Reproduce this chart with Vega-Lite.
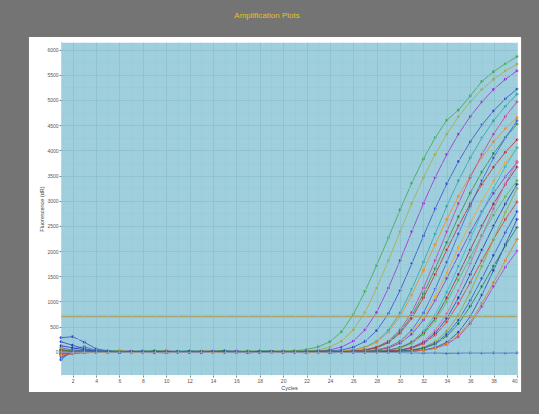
{
"$schema": "https://vega.github.io/schema/vega-lite/v6.json",
"width": 456, "height": 333,
"autosize": {"type": "none"},
"padding": {"left": 61, "top": 42, "right": 22, "bottom": 39},
"background": "#747474",
"title": {"text": "Amplification Plots", "color": "#e3c21c", "fontSize": 8, "fontWeight": "normal", "font": "Liberation Sans", "offset": 17, "dx": -22},
"config": {
  "view": {"fill": "#9fcfdd", "stroke": "#e6f3f7"},
  "axis": {"labelFont": "Liberation Sans", "titleFont": "Liberation Sans", "labelColor": "#555555", "titleColor": "#444444", "labelFontSize": 5, "titleFontSize": 5.5, "titleFontWeight": "normal", "domain": false, "tickColor": "#888888", "tickSize": 2, "grid": true, "gridOpacity": 1, "gridWidth": 0.6, "labelOverlap": false, "tickCount": 100}
},
"layer": [
  {"data": {"values": [{}]}, "mark": {"type": "rect", "color": "#ffffff"},
   "encoding": {"x": {"datum": -1.74, "type": "quantitative"}, "x2": {"datum": 1}, "y": {"datum": 6249, "type": "quantitative"}, "y2": {"datum": -797}}},
  {"data": {"values": [{}]}, "mark": {"type": "rect", "color": "#ffffff"},
   "encoding": {"x": {"datum": 40, "type": "quantitative"}, "x2": {"datum": 40.35}, "y": {"datum": 6249, "type": "quantitative"}, "y2": {"datum": -797}}},
  {"data": {"values": [{}]}, "mark": {"type": "rect", "color": "#ffffff"},
   "encoding": {"x": {"datum": 1, "type": "quantitative"}, "x2": {"datum": 40}, "y": {"datum": 6249, "type": "quantitative"}, "y2": {"datum": 6150}}},
  {"data": {"values": [{}]}, "mark": {"type": "rect", "color": "#ffffff"},
   "encoding": {"x": {"datum": 1, "type": "quantitative"}, "x2": {"datum": 40}, "y": {"datum": -460, "type": "quantitative"}, "y2": {"datum": -797}}},
  {"data": {"values": [
{"s":"a","c":1,"v":40},{"s":"a","c":2,"v":20},{"s":"a","c":3,"v":-10},{"s":"a","c":4,"v":10},{"s":"a","c":5,"v":0},{"s":"a","c":6,"v":15},{"s":"a","c":7,"v":-5},{"s":"a","c":8,"v":5},{"s":"a","c":9,"v":10},{"s":"a","c":10,"v":-10},{"s":"a","c":11,"v":0},{"s":"a","c":12,"v":5},{"s":"a","c":13,"v":15},{"s":"a","c":14,"v":-5},{"s":"a","c":15,"v":10},{"s":"a","c":16,"v":0},{"s":"a","c":17,"v":-10},{"s":"a","c":18,"v":5},{"s":"a","c":19,"v":10},{"s":"a","c":20,"v":15},{"s":"a","c":21,"v":20},{"s":"a","c":22,"v":45},{"s":"a","c":23,"v":100},{"s":"a","c":24,"v":200},{"s":"a","c":25,"v":400},{"s":"a","c":26,"v":740},{"s":"a","c":27,"v":1200},{"s":"a","c":28,"v":1720},{"s":"a","c":29,"v":2260},{"s":"a","c":30,"v":2820},{"s":"a","c":31,"v":3350},{"s":"a","c":32,"v":3830},{"s":"a","c":33,"v":4250},{"s":"a","c":34,"v":4600},{"s":"a","c":35,"v":4800},{"s":"a","c":36,"v":5080},{"s":"a","c":37,"v":5370},{"s":"a","c":38,"v":5560},{"s":"a","c":39,"v":5720},{"s":"a","c":40,"v":5860},
{"s":"b","c":1,"v":-60},{"s":"b","c":2,"v":10},{"s":"b","c":3,"v":20},{"s":"b","c":4,"v":-5},{"s":"b","c":5,"v":10},{"s":"b","c":6,"v":0},{"s":"b","c":7,"v":5},{"s":"b","c":8,"v":-10},{"s":"b","c":9,"v":15},{"s":"b","c":10,"v":5},{"s":"b","c":11,"v":-5},{"s":"b","c":12,"v":10},{"s":"b","c":13,"v":0},{"s":"b","c":14,"v":20},{"s":"b","c":15,"v":-10},{"s":"b","c":16,"v":5},{"s":"b","c":17,"v":10},{"s":"b","c":18,"v":-5},{"s":"b","c":19,"v":0},{"s":"b","c":20,"v":10},{"s":"b","c":21,"v":5},{"s":"b","c":22,"v":17},{"s":"b","c":23,"v":39},{"s":"b","c":24,"v":95},{"s":"b","c":25,"v":213},{"s":"b","c":26,"v":437},{"s":"b","c":27,"v":784},{"s":"b","c":28,"v":1266},{"s":"b","c":29,"v":1814},{"s":"b","c":30,"v":2386},{"s":"b","c":31,"v":2946},{"s":"b","c":32,"v":3461},{"s":"b","c":33,"v":3920},{"s":"b","c":34,"v":4323},{"s":"b","c":35,"v":4670},{"s":"b","c":36,"v":4962},{"s":"b","c":37,"v":5208},{"s":"b","c":38,"v":5410},{"s":"b","c":39,"v":5578},{"s":"b","c":40,"v":5712},
{"s":"c","c":1,"v":80},{"s":"c","c":2,"v":30},{"s":"c","c":3,"v":0},{"s":"c","c":4,"v":15},{"s":"c","c":5,"v":-10},{"s":"c","c":6,"v":5},{"s":"c","c":7,"v":10},{"s":"c","c":8,"v":0},{"s":"c","c":9,"v":-5},{"s":"c","c":10,"v":20},{"s":"c","c":11,"v":5},{"s":"c","c":12,"v":-10},{"s":"c","c":13,"v":10},{"s":"c","c":14,"v":0},{"s":"c","c":15,"v":5},{"s":"c","c":16,"v":15},{"s":"c","c":17,"v":-5},{"s":"c","c":18,"v":10},{"s":"c","c":19,"v":-10},{"s":"c","c":20,"v":5},{"s":"c","c":21,"v":0},{"s":"c","c":22,"v":10},{"s":"c","c":23,"v":17},{"s":"c","c":24,"v":39},{"s":"c","c":25,"v":95},{"s":"c","c":26,"v":213},{"s":"c","c":27,"v":437},{"s":"c","c":28,"v":784},{"s":"c","c":29,"v":1266},{"s":"c","c":30,"v":1814},{"s":"c","c":31,"v":2386},{"s":"c","c":32,"v":2946},{"s":"c","c":33,"v":3461},{"s":"c","c":34,"v":3920},{"s":"c","c":35,"v":4323},{"s":"c","c":36,"v":4670},{"s":"c","c":37,"v":4962},{"s":"c","c":38,"v":5208},{"s":"c","c":39,"v":5410},{"s":"c","c":40,"v":5578},
{"s":"d","c":1,"v":280},{"s":"d","c":2,"v":300},{"s":"d","c":3,"v":190},{"s":"d","c":4,"v":60},{"s":"d","c":5,"v":20},{"s":"d","c":6,"v":10},{"s":"d","c":7,"v":-10},{"s":"d","c":8,"v":5},{"s":"d","c":9,"v":15},{"s":"d","c":10,"v":0},{"s":"d","c":11,"v":-5},{"s":"d","c":12,"v":10},{"s":"d","c":13,"v":5},{"s":"d","c":14,"v":-10},{"s":"d","c":15,"v":0},{"s":"d","c":16,"v":15},{"s":"d","c":17,"v":5},{"s":"d","c":18,"v":-5},{"s":"d","c":19,"v":10},{"s":"d","c":20,"v":0},{"s":"d","c":21,"v":-10},{"s":"d","c":22,"v":5},{"s":"d","c":23,"v":10},{"s":"d","c":24,"v":16},{"s":"d","c":25,"v":38},{"s":"d","c":26,"v":92},{"s":"d","c":27,"v":205},{"s":"d","c":28,"v":421},{"s":"d","c":29,"v":756},{"s":"d","c":30,"v":1220},{"s":"d","c":31,"v":1750},{"s":"d","c":32,"v":2300},{"s":"d","c":33,"v":2840},{"s":"d","c":34,"v":3337},{"s":"d","c":35,"v":3780},{"s":"d","c":36,"v":4169},{"s":"d","c":37,"v":4504},{"s":"d","c":38,"v":4784},{"s":"d","c":39,"v":5022},{"s":"d","c":40,"v":5216},
{"s":"e","c":1,"v":-30},{"s":"e","c":2,"v":20},{"s":"e","c":3,"v":10},{"s":"e","c":4,"v":0},{"s":"e","c":5,"v":15},{"s":"e","c":6,"v":-5},{"s":"e","c":7,"v":10},{"s":"e","c":8,"v":5},{"s":"e","c":9,"v":-10},{"s":"e","c":10,"v":0},{"s":"e","c":11,"v":10},{"s":"e","c":12,"v":15},{"s":"e","c":13,"v":-5},{"s":"e","c":14,"v":5},{"s":"e","c":15,"v":0},{"s":"e","c":16,"v":-10},{"s":"e","c":17,"v":10},{"s":"e","c":18,"v":5},{"s":"e","c":19,"v":15},{"s":"e","c":20,"v":-5},{"s":"e","c":21,"v":0},{"s":"e","c":22,"v":10},{"s":"e","c":23,"v":5},{"s":"e","c":24,"v":-5},{"s":"e","c":25,"v":17},{"s":"e","c":26,"v":39},{"s":"e","c":27,"v":94},{"s":"e","c":28,"v":209},{"s":"e","c":29,"v":429},{"s":"e","c":30,"v":770},{"s":"e","c":31,"v":1243},{"s":"e","c":32,"v":1782},{"s":"e","c":33,"v":2343},{"s":"e","c":34,"v":2893},{"s":"e","c":35,"v":3399},{"s":"e","c":36,"v":3850},{"s":"e","c":37,"v":4246},{"s":"e","c":38,"v":4587},{"s":"e","c":39,"v":4873},{"s":"e","c":40,"v":5115},
{"s":"f","c":1,"v":-80},{"s":"f","c":2,"v":-20},{"s":"f","c":3,"v":0},{"s":"f","c":4,"v":10},{"s":"f","c":5,"v":-5},{"s":"f","c":6,"v":5},{"s":"f","c":7,"v":-10},{"s":"f","c":8,"v":-15},{"s":"f","c":9,"v":0},{"s":"f","c":10,"v":10},{"s":"f","c":11,"v":-5},{"s":"f","c":12,"v":-10},{"s":"f","c":13,"v":5},{"s":"f","c":14,"v":0},{"s":"f","c":15,"v":-15},{"s":"f","c":16,"v":-5},{"s":"f","c":17,"v":10},{"s":"f","c":18,"v":-10},{"s":"f","c":19,"v":-5},{"s":"f","c":20,"v":5},{"s":"f","c":21,"v":-10},{"s":"f","c":22,"v":0},{"s":"f","c":23,"v":-15},{"s":"f","c":24,"v":-5},{"s":"f","c":25,"v":15},{"s":"f","c":26,"v":35},{"s":"f","c":27,"v":85},{"s":"f","c":28,"v":190},{"s":"f","c":29,"v":390},{"s":"f","c":30,"v":700},{"s":"f","c":31,"v":1130},{"s":"f","c":32,"v":1620},{"s":"f","c":33,"v":2130},{"s":"f","c":34,"v":2630},{"s":"f","c":35,"v":3090},{"s":"f","c":36,"v":3500},{"s":"f","c":37,"v":3860},{"s":"f","c":38,"v":4170},{"s":"f","c":39,"v":4430},{"s":"f","c":40,"v":4650},
{"s":"g","c":1,"v":50},{"s":"g","c":2,"v":10},{"s":"g","c":3,"v":-10},{"s":"g","c":4,"v":5},{"s":"g","c":5,"v":0},{"s":"g","c":6,"v":10},{"s":"g","c":7,"v":15},{"s":"g","c":8,"v":-5},{"s":"g","c":9,"v":5},{"s":"g","c":10,"v":0},{"s":"g","c":11,"v":-10},{"s":"g","c":12,"v":5},{"s":"g","c":13,"v":10},{"s":"g","c":14,"v":15},{"s":"g","c":15,"v":0},{"s":"g","c":16,"v":-5},{"s":"g","c":17,"v":5},{"s":"g","c":18,"v":10},{"s":"g","c":19,"v":-5},{"s":"g","c":20,"v":0},{"s":"g","c":21,"v":10},{"s":"g","c":22,"v":5},{"s":"g","c":23,"v":-5},{"s":"g","c":24,"v":10},{"s":"g","c":25,"v":0},{"s":"g","c":26,"v":17},{"s":"g","c":27,"v":39},{"s":"g","c":28,"v":95},{"s":"g","c":29,"v":213},{"s":"g","c":30,"v":437},{"s":"g","c":31,"v":784},{"s":"g","c":32,"v":1266},{"s":"g","c":33,"v":1814},{"s":"g","c":34,"v":2386},{"s":"g","c":35,"v":2946},{"s":"g","c":36,"v":3461},{"s":"g","c":37,"v":3920},{"s":"g","c":38,"v":4323},{"s":"g","c":39,"v":4670},{"s":"g","c":40,"v":4962},
{"s":"h","c":1,"v":-40},{"s":"h","c":2,"v":0},{"s":"h","c":3,"v":15},{"s":"h","c":4,"v":-5},{"s":"h","c":5,"v":10},{"s":"h","c":6,"v":20},{"s":"h","c":7,"v":5},{"s":"h","c":8,"v":0},{"s":"h","c":9,"v":10},{"s":"h","c":10,"v":-5},{"s":"h","c":11,"v":15},{"s":"h","c":12,"v":5},{"s":"h","c":13,"v":0},{"s":"h","c":14,"v":10},{"s":"h","c":15,"v":20},{"s":"h","c":16,"v":5},{"s":"h","c":17,"v":-5},{"s":"h","c":18,"v":15},{"s":"h","c":19,"v":10},{"s":"h","c":20,"v":0},{"s":"h","c":21,"v":5},{"s":"h","c":22,"v":15},{"s":"h","c":23,"v":10},{"s":"h","c":24,"v":0},{"s":"h","c":25,"v":5},{"s":"h","c":26,"v":15},{"s":"h","c":27,"v":36},{"s":"h","c":28,"v":87},{"s":"h","c":29,"v":194},{"s":"h","c":30,"v":398},{"s":"h","c":31,"v":714},{"s":"h","c":32,"v":1153},{"s":"h","c":33,"v":1652},{"s":"h","c":34,"v":2173},{"s":"h","c":35,"v":2683},{"s":"h","c":36,"v":3152},{"s":"h","c":37,"v":3570},{"s":"h","c":38,"v":3937},{"s":"h","c":39,"v":4253},{"s":"h","c":40,"v":4519},
{"s":"i","c":1,"v":20},{"s":"i","c":2,"v":-30},{"s":"i","c":3,"v":-10},{"s":"i","c":4,"v":5},{"s":"i","c":5,"v":-5},{"s":"i","c":6,"v":0},{"s":"i","c":7,"v":10},{"s":"i","c":8,"v":-10},{"s":"i","c":9,"v":-5},{"s":"i","c":10,"v":5},{"s":"i","c":11,"v":0},{"s":"i","c":12,"v":-15},{"s":"i","c":13,"v":-5},{"s":"i","c":14,"v":5},{"s":"i","c":15,"v":10},{"s":"i","c":16,"v":-10},{"s":"i","c":17,"v":0},{"s":"i","c":18,"v":-5},{"s":"i","c":19,"v":5},{"s":"i","c":20,"v":-10},{"s":"i","c":21,"v":-5},{"s":"i","c":22,"v":0},{"s":"i","c":23,"v":10},{"s":"i","c":24,"v":-10},{"s":"i","c":25,"v":-5},{"s":"i","c":26,"v":14},{"s":"i","c":27,"v":33},{"s":"i","c":28,"v":81},{"s":"i","c":29,"v":181},{"s":"i","c":30,"v":371},{"s":"i","c":31,"v":665},{"s":"i","c":32,"v":1074},{"s":"i","c":33,"v":1539},{"s":"i","c":34,"v":2024},{"s":"i","c":35,"v":2499},{"s":"i","c":36,"v":2936},{"s":"i","c":37,"v":3325},{"s":"i","c":38,"v":3667},{"s":"i","c":39,"v":3962},{"s":"i","c":40,"v":4209},
{"s":"j","c":1,"v":-150},{"s":"j","c":2,"v":60},{"s":"j","c":3,"v":100},{"s":"j","c":4,"v":30},{"s":"j","c":5,"v":10},{"s":"j","c":6,"v":-5},{"s":"j","c":7,"v":0},{"s":"j","c":8,"v":10},{"s":"j","c":9,"v":5},{"s":"j","c":10,"v":-10},{"s":"j","c":11,"v":0},{"s":"j","c":12,"v":15},{"s":"j","c":13,"v":5},{"s":"j","c":14,"v":-5},{"s":"j","c":15,"v":10},{"s":"j","c":16,"v":0},{"s":"j","c":17,"v":5},{"s":"j","c":18,"v":-10},{"s":"j","c":19,"v":0},{"s":"j","c":20,"v":10},{"s":"j","c":21,"v":5},{"s":"j","c":22,"v":-5},{"s":"j","c":23,"v":0},{"s":"j","c":24,"v":10},{"s":"j","c":25,"v":5},{"s":"j","c":26,"v":0},{"s":"j","c":27,"v":17},{"s":"j","c":28,"v":39},{"s":"j","c":29,"v":94},{"s":"j","c":30,"v":209},{"s":"j","c":31,"v":429},{"s":"j","c":32,"v":770},{"s":"j","c":33,"v":1243},{"s":"j","c":34,"v":1782},{"s":"j","c":35,"v":2343},{"s":"j","c":36,"v":2893},{"s":"j","c":37,"v":3399},{"s":"j","c":38,"v":3850},{"s":"j","c":39,"v":4246},{"s":"j","c":40,"v":4587},
{"s":"k","c":1,"v":60},{"s":"k","c":2,"v":0},{"s":"k","c":3,"v":-15},{"s":"k","c":4,"v":-5},{"s":"k","c":5,"v":-20},{"s":"k","c":6,"v":-10},{"s":"k","c":7,"v":0},{"s":"k","c":8,"v":-15},{"s":"k","c":9,"v":-25},{"s":"k","c":10,"v":-10},{"s":"k","c":11,"v":-5},{"s":"k","c":12,"v":-20},{"s":"k","c":13,"v":-15},{"s":"k","c":14,"v":0},{"s":"k","c":15,"v":-10},{"s":"k","c":16,"v":-20},{"s":"k","c":17,"v":-5},{"s":"k","c":18,"v":-15},{"s":"k","c":19,"v":-10},{"s":"k","c":20,"v":-20},{"s":"k","c":21,"v":-5},{"s":"k","c":22,"v":-15},{"s":"k","c":23,"v":-10},{"s":"k","c":24,"v":0},{"s":"k","c":25,"v":-10},{"s":"k","c":26,"v":-5},{"s":"k","c":27,"v":15},{"s":"k","c":28,"v":34},{"s":"k","c":29,"v":82},{"s":"k","c":30,"v":184},{"s":"k","c":31,"v":378},{"s":"k","c":32,"v":679},{"s":"k","c":33,"v":1096},{"s":"k","c":34,"v":1571},{"s":"k","c":35,"v":2066},{"s":"k","c":36,"v":2551},{"s":"k","c":37,"v":2997},{"s":"k","c":38,"v":3395},{"s":"k","c":39,"v":3744},{"s":"k","c":40,"v":4045},
{"s":"l","c":1,"v":10},{"s":"l","c":2,"v":15},{"s":"l","c":3,"v":5},{"s":"l","c":4,"v":-5},{"s":"l","c":5,"v":10},{"s":"l","c":6,"v":0},{"s":"l","c":7,"v":5},{"s":"l","c":8,"v":15},{"s":"l","c":9,"v":0},{"s":"l","c":10,"v":-5},{"s":"l","c":11,"v":5},{"s":"l","c":12,"v":10},{"s":"l","c":13,"v":-10},{"s":"l","c":14,"v":0},{"s":"l","c":15,"v":5},{"s":"l","c":16,"v":10},{"s":"l","c":17,"v":0},{"s":"l","c":18,"v":-5},{"s":"l","c":19,"v":15},{"s":"l","c":20,"v":5},{"s":"l","c":21,"v":0},{"s":"l","c":22,"v":-10},{"s":"l","c":23,"v":5},{"s":"l","c":24,"v":15},{"s":"l","c":25,"v":0},{"s":"l","c":26,"v":5},{"s":"l","c":27,"v":14},{"s":"l","c":28,"v":32},{"s":"l","c":29,"v":77},{"s":"l","c":30,"v":171},{"s":"l","c":31,"v":351},{"s":"l","c":32,"v":630},{"s":"l","c":33,"v":1017},{"s":"l","c":34,"v":1458},{"s":"l","c":35,"v":1917},{"s":"l","c":36,"v":2367},{"s":"l","c":37,"v":2781},{"s":"l","c":38,"v":3150},{"s":"l","c":39,"v":3474},{"s":"l","c":40,"v":3753},
{"s":"m","c":1,"v":-20},{"s":"m","c":2,"v":5},{"s":"m","c":3,"v":10},{"s":"m","c":4,"v":0},{"s":"m","c":5,"v":-10},{"s":"m","c":6,"v":5},{"s":"m","c":7,"v":0},{"s":"m","c":8,"v":10},{"s":"m","c":9,"v":-5},{"s":"m","c":10,"v":5},{"s":"m","c":11,"v":15},{"s":"m","c":12,"v":0},{"s":"m","c":13,"v":-5},{"s":"m","c":14,"v":10},{"s":"m","c":15,"v":0},{"s":"m","c":16,"v":-10},{"s":"m","c":17,"v":5},{"s":"m","c":18,"v":0},{"s":"m","c":19,"v":-5},{"s":"m","c":20,"v":10},{"s":"m","c":21,"v":0},{"s":"m","c":22,"v":5},{"s":"m","c":23,"v":-10},{"s":"m","c":24,"v":0},{"s":"m","c":25,"v":10},{"s":"m","c":26,"v":-5},{"s":"m","c":27,"v":5},{"s":"m","c":28,"v":16},{"s":"m","c":29,"v":37},{"s":"m","c":30,"v":89},{"s":"m","c":31,"v":200},{"s":"m","c":32,"v":410},{"s":"m","c":33,"v":735},{"s":"m","c":34,"v":1187},{"s":"m","c":35,"v":1701},{"s":"m","c":36,"v":2237},{"s":"m","c":37,"v":2762},{"s":"m","c":38,"v":3245},{"s":"m","c":39,"v":3675},{"s":"m","c":40,"v":4053},
{"s":"n","c":1,"v":30},{"s":"n","c":2,"v":-10},{"s":"n","c":3,"v":-20},{"s":"n","c":4,"v":-10},{"s":"n","c":5,"v":0},{"s":"n","c":6,"v":-15},{"s":"n","c":7,"v":-5},{"s":"n","c":8,"v":5},{"s":"n","c":9,"v":-10},{"s":"n","c":10,"v":-20},{"s":"n","c":11,"v":-5},{"s":"n","c":12,"v":0},{"s":"n","c":13,"v":-15},{"s":"n","c":14,"v":-10},{"s":"n","c":15,"v":5},{"s":"n","c":16,"v":-5},{"s":"n","c":17,"v":-20},{"s":"n","c":18,"v":-10},{"s":"n","c":19,"v":0},{"s":"n","c":20,"v":-15},{"s":"n","c":21,"v":-5},{"s":"n","c":22,"v":-10},{"s":"n","c":23,"v":0},{"s":"n","c":24,"v":-20},{"s":"n","c":25,"v":-10},{"s":"n","c":26,"v":-5},{"s":"n","c":27,"v":0},{"s":"n","c":28,"v":14},{"s":"n","c":29,"v":33},{"s":"n","c":30,"v":81},{"s":"n","c":31,"v":181},{"s":"n","c":32,"v":371},{"s":"n","c":33,"v":665},{"s":"n","c":34,"v":1074},{"s":"n","c":35,"v":1539},{"s":"n","c":36,"v":2024},{"s":"n","c":37,"v":2499},{"s":"n","c":38,"v":2936},{"s":"n","c":39,"v":3325},{"s":"n","c":40,"v":3667},
{"s":"o","c":1,"v":0},{"s":"o","c":2,"v":20},{"s":"o","c":3,"v":10},{"s":"o","c":4,"v":15},{"s":"o","c":5,"v":5},{"s":"o","c":6,"v":-5},{"s":"o","c":7,"v":10},{"s":"o","c":8,"v":20},{"s":"o","c":9,"v":5},{"s":"o","c":10,"v":0},{"s":"o","c":11,"v":10},{"s":"o","c":12,"v":-5},{"s":"o","c":13,"v":15},{"s":"o","c":14,"v":5},{"s":"o","c":15,"v":10},{"s":"o","c":16,"v":0},{"s":"o","c":17,"v":20},{"s":"o","c":18,"v":5},{"s":"o","c":19,"v":-5},{"s":"o","c":20,"v":10},{"s":"o","c":21,"v":15},{"s":"o","c":22,"v":0},{"s":"o","c":23,"v":5},{"s":"o","c":24,"v":10},{"s":"o","c":25,"v":-5},{"s":"o","c":26,"v":5},{"s":"o","c":27,"v":10},{"s":"o","c":28,"v":13},{"s":"o","c":29,"v":31},{"s":"o","c":30,"v":75},{"s":"o","c":31,"v":167},{"s":"o","c":32,"v":343},{"s":"o","c":33,"v":616},{"s":"o","c":34,"v":994},{"s":"o","c":35,"v":1426},{"s":"o","c":36,"v":1874},{"s":"o","c":37,"v":2314},{"s":"o","c":38,"v":2719},{"s":"o","c":39,"v":3080},{"s":"o","c":40,"v":3397},
{"s":"p","c":1,"v":-10},{"s":"p","c":2,"v":-40},{"s":"p","c":3,"v":0},{"s":"p","c":4,"v":5},{"s":"p","c":5,"v":-5},{"s":"p","c":6,"v":10},{"s":"p","c":7,"v":-10},{"s":"p","c":8,"v":0},{"s":"p","c":9,"v":5},{"s":"p","c":10,"v":-5},{"s":"p","c":11,"v":-15},{"s":"p","c":12,"v":5},{"s":"p","c":13,"v":0},{"s":"p","c":14,"v":-10},{"s":"p","c":15,"v":10},{"s":"p","c":16,"v":-5},{"s":"p","c":17,"v":0},{"s":"p","c":18,"v":5},{"s":"p","c":19,"v":-10},{"s":"p","c":20,"v":0},{"s":"p","c":21,"v":10},{"s":"p","c":22,"v":-5},{"s":"p","c":23,"v":0},{"s":"p","c":24,"v":5},{"s":"p","c":25,"v":-10},{"s":"p","c":26,"v":0},{"s":"p","c":27,"v":5},{"s":"p","c":28,"v":-5},{"s":"p","c":29,"v":16},{"s":"p","c":30,"v":38},{"s":"p","c":31,"v":92},{"s":"p","c":32,"v":205},{"s":"p","c":33,"v":421},{"s":"p","c":34,"v":756},{"s":"p","c":35,"v":1220},{"s":"p","c":36,"v":1750},{"s":"p","c":37,"v":2300},{"s":"p","c":38,"v":2840},{"s":"p","c":39,"v":3337},{"s":"p","c":40,"v":3780},
{"s":"q","c":1,"v":120},{"s":"q","c":2,"v":80},{"s":"q","c":3,"v":40},{"s":"q","c":4,"v":10},{"s":"q","c":5,"v":0},{"s":"q","c":6,"v":-10},{"s":"q","c":7,"v":5},{"s":"q","c":8,"v":-5},{"s":"q","c":9,"v":10},{"s":"q","c":10,"v":0},{"s":"q","c":11,"v":-10},{"s":"q","c":12,"v":5},{"s":"q","c":13,"v":10},{"s":"q","c":14,"v":-5},{"s":"q","c":15,"v":0},{"s":"q","c":16,"v":5},{"s":"q","c":17,"v":-10},{"s":"q","c":18,"v":0},{"s":"q","c":19,"v":10},{"s":"q","c":20,"v":-5},{"s":"q","c":21,"v":5},{"s":"q","c":22,"v":0},{"s":"q","c":23,"v":-10},{"s":"q","c":24,"v":5},{"s":"q","c":25,"v":0},{"s":"q","c":26,"v":10},{"s":"q","c":27,"v":-5},{"s":"q","c":28,"v":0},{"s":"q","c":29,"v":14},{"s":"q","c":30,"v":33},{"s":"q","c":31,"v":81},{"s":"q","c":32,"v":181},{"s":"q","c":33,"v":371},{"s":"q","c":34,"v":665},{"s":"q","c":35,"v":1074},{"s":"q","c":36,"v":1539},{"s":"q","c":37,"v":2024},{"s":"q","c":38,"v":2499},{"s":"q","c":39,"v":2936},{"s":"q","c":40,"v":3325},
{"s":"r","c":1,"v":-50},{"s":"r","c":2,"v":-20},{"s":"r","c":3,"v":10},{"s":"r","c":4,"v":0},{"s":"r","c":5,"v":-10},{"s":"r","c":6,"v":5},{"s":"r","c":7,"v":-15},{"s":"r","c":8,"v":-5},{"s":"r","c":9,"v":0},{"s":"r","c":10,"v":-10},{"s":"r","c":11,"v":5},{"s":"r","c":12,"v":-5},{"s":"r","c":13,"v":-15},{"s":"r","c":14,"v":0},{"s":"r","c":15,"v":-5},{"s":"r","c":16,"v":-10},{"s":"r","c":17,"v":5},{"s":"r","c":18,"v":-15},{"s":"r","c":19,"v":-5},{"s":"r","c":20,"v":0},{"s":"r","c":21,"v":-10},{"s":"r","c":22,"v":-20},{"s":"r","c":23,"v":-5},{"s":"r","c":24,"v":0},{"s":"r","c":25,"v":-15},{"s":"r","c":26,"v":-5},{"s":"r","c":27,"v":-10},{"s":"r","c":28,"v":0},{"s":"r","c":29,"v":13},{"s":"r","c":30,"v":30},{"s":"r","c":31,"v":72},{"s":"r","c":32,"v":162},{"s":"r","c":33,"v":332},{"s":"r","c":34,"v":595},{"s":"r","c":35,"v":961},{"s":"r","c":36,"v":1377},{"s":"r","c":37,"v":1811},{"s":"r","c":38,"v":2236},{"s":"r","c":39,"v":2627},{"s":"r","c":40,"v":2975},
{"s":"s","c":1,"v":15},{"s":"s","c":2,"v":25},{"s":"s","c":3,"v":5},{"s":"s","c":4,"v":10},{"s":"s","c":5,"v":0},{"s":"s","c":6,"v":15},{"s":"s","c":7,"v":5},{"s":"s","c":8,"v":-5},{"s":"s","c":9,"v":10},{"s":"s","c":10,"v":20},{"s":"s","c":11,"v":0},{"s":"s","c":12,"v":5},{"s":"s","c":13,"v":15},{"s":"s","c":14,"v":10},{"s":"s","c":15,"v":-5},{"s":"s","c":16,"v":5},{"s":"s","c":17,"v":15},{"s":"s","c":18,"v":0},{"s":"s","c":19,"v":10},{"s":"s","c":20,"v":20},{"s":"s","c":21,"v":5},{"s":"s","c":22,"v":0},{"s":"s","c":23,"v":15},{"s":"s","c":24,"v":10},{"s":"s","c":25,"v":5},{"s":"s","c":26,"v":-5},{"s":"s","c":27,"v":10},{"s":"s","c":28,"v":5},{"s":"s","c":29,"v":0},{"s":"s","c":30,"v":16},{"s":"s","c":31,"v":37},{"s":"s","c":32,"v":89},{"s":"s","c":33,"v":200},{"s":"s","c":34,"v":410},{"s":"s","c":35,"v":735},{"s":"s","c":36,"v":1187},{"s":"s","c":37,"v":1701},{"s":"s","c":38,"v":2237},{"s":"s","c":39,"v":2762},{"s":"s","c":40,"v":3245},
{"s":"t","c":1,"v":-100},{"s":"t","c":2,"v":-30},{"s":"t","c":3,"v":-10},{"s":"t","c":4,"v":0},{"s":"t","c":5,"v":5},{"s":"t","c":6,"v":-5},{"s":"t","c":7,"v":10},{"s":"t","c":8,"v":0},{"s":"t","c":9,"v":-10},{"s":"t","c":10,"v":5},{"s":"t","c":11,"v":0},{"s":"t","c":12,"v":-5},{"s":"t","c":13,"v":10},{"s":"t","c":14,"v":5},{"s":"t","c":15,"v":-10},{"s":"t","c":16,"v":0},{"s":"t","c":17,"v":5},{"s":"t","c":18,"v":-5},{"s":"t","c":19,"v":0},{"s":"t","c":20,"v":10},{"s":"t","c":21,"v":-5},{"s":"t","c":22,"v":5},{"s":"t","c":23,"v":0},{"s":"t","c":24,"v":-10},{"s":"t","c":25,"v":5},{"s":"t","c":26,"v":0},{"s":"t","c":27,"v":-5},{"s":"t","c":28,"v":10},{"s":"t","c":29,"v":0},{"s":"t","c":30,"v":14},{"s":"t","c":31,"v":32},{"s":"t","c":32,"v":77},{"s":"t","c":33,"v":171},{"s":"t","c":34,"v":351},{"s":"t","c":35,"v":630},{"s":"t","c":36,"v":1017},{"s":"t","c":37,"v":1458},{"s":"t","c":38,"v":1917},{"s":"t","c":39,"v":2367},{"s":"t","c":40,"v":2781},
{"s":"u","c":1,"v":40},{"s":"u","c":2,"v":10},{"s":"u","c":3,"v":20},{"s":"u","c":4,"v":5},{"s":"u","c":5,"v":15},{"s":"u","c":6,"v":0},{"s":"u","c":7,"v":10},{"s":"u","c":8,"v":5},{"s":"u","c":9,"v":20},{"s":"u","c":10,"v":10},{"s":"u","c":11,"v":0},{"s":"u","c":12,"v":15},{"s":"u","c":13,"v":5},{"s":"u","c":14,"v":10},{"s":"u","c":15,"v":20},{"s":"u","c":16,"v":0},{"s":"u","c":17,"v":5},{"s":"u","c":18,"v":15},{"s":"u","c":19,"v":10},{"s":"u","c":20,"v":0},{"s":"u","c":21,"v":15},{"s":"u","c":22,"v":5},{"s":"u","c":23,"v":10},{"s":"u","c":24,"v":20},{"s":"u","c":25,"v":0},{"s":"u","c":26,"v":10},{"s":"u","c":27,"v":5},{"s":"u","c":28,"v":15},{"s":"u","c":29,"v":5},{"s":"u","c":30,"v":12},{"s":"u","c":31,"v":28},{"s":"u","c":32,"v":68},{"s":"u","c":33,"v":152},{"s":"u","c":34,"v":312},{"s":"u","c":35,"v":560},{"s":"u","c":36,"v":904},{"s":"u","c":37,"v":1296},{"s":"u","c":38,"v":1704},{"s":"u","c":39,"v":2104},{"s":"u","c":40,"v":2472},
{"s":"v","c":1,"v":-30},{"s":"v","c":2,"v":0},{"s":"v","c":3,"v":-5},{"s":"v","c":4,"v":10},{"s":"v","c":5,"v":0},{"s":"v","c":6,"v":-10},{"s":"v","c":7,"v":5},{"s":"v","c":8,"v":0},{"s":"v","c":9,"v":-5},{"s":"v","c":10,"v":10},{"s":"v","c":11,"v":5},{"s":"v","c":12,"v":-10},{"s":"v","c":13,"v":0},{"s":"v","c":14,"v":5},{"s":"v","c":15,"v":-5},{"s":"v","c":16,"v":10},{"s":"v","c":17,"v":0},{"s":"v","c":18,"v":-10},{"s":"v","c":19,"v":5},{"s":"v","c":20,"v":0},{"s":"v","c":21,"v":-5},{"s":"v","c":22,"v":10},{"s":"v","c":23,"v":0},{"s":"v","c":24,"v":-5},{"s":"v","c":25,"v":5},{"s":"v","c":26,"v":0},{"s":"v","c":27,"v":-10},{"s":"v","c":28,"v":5},{"s":"v","c":29,"v":0},{"s":"v","c":30,"v":-5},{"s":"v","c":31,"v":10},{"s":"v","c":32,"v":30},{"s":"v","c":33,"v":70},{"s":"v","c":34,"v":150},{"s":"v","c":35,"v":300},{"s":"v","c":36,"v":560},{"s":"v","c":37,"v":900},{"s":"v","c":38,"v":1300},{"s":"v","c":39,"v":1680},{"s":"v","c":40,"v":2000},
{"s":"w","c":1,"v":200},{"s":"w","c":2,"v":130},{"s":"w","c":3,"v":60},{"s":"w","c":4,"v":20},{"s":"w","c":5,"v":0},{"s":"w","c":6,"v":-10},{"s":"w","c":7,"v":5},{"s":"w","c":8,"v":10},{"s":"w","c":9,"v":0},{"s":"w","c":10,"v":-5},{"s":"w","c":11,"v":5},{"s":"w","c":12,"v":0},{"s":"w","c":13,"v":-10},{"s":"w","c":14,"v":5},{"s":"w","c":15,"v":10},{"s":"w","c":16,"v":0},{"s":"w","c":17,"v":-5},{"s":"w","c":18,"v":5},{"s":"w","c":19,"v":0},{"s":"w","c":20,"v":-10},{"s":"w","c":21,"v":5},{"s":"w","c":22,"v":0},{"s":"w","c":23,"v":10},{"s":"w","c":24,"v":-5},{"s":"w","c":25,"v":0},{"s":"w","c":26,"v":5},{"s":"w","c":27,"v":-10},{"s":"w","c":28,"v":0},{"s":"w","c":29,"v":5},{"s":"w","c":30,"v":-5},{"s":"w","c":31,"v":15},{"s":"w","c":32,"v":35},{"s":"w","c":33,"v":85},{"s":"w","c":34,"v":190},{"s":"w","c":35,"v":390},{"s":"w","c":36,"v":700},{"s":"w","c":37,"v":1130},{"s":"w","c":38,"v":1620},{"s":"w","c":39,"v":2130},{"s":"w","c":40,"v":2630},
{"s":"x","c":1,"v":-70},{"s":"x","c":2,"v":-30},{"s":"x","c":3,"v":-15},{"s":"x","c":4,"v":-5},{"s":"x","c":5,"v":-10},{"s":"x","c":6,"v":0},{"s":"x","c":7,"v":-15},{"s":"x","c":8,"v":-5},{"s":"x","c":9,"v":-10},{"s":"x","c":10,"v":-20},{"s":"x","c":11,"v":0},{"s":"x","c":12,"v":-10},{"s":"x","c":13,"v":-5},{"s":"x","c":14,"v":-15},{"s":"x","c":15,"v":-10},{"s":"x","c":16,"v":0},{"s":"x","c":17,"v":-5},{"s":"x","c":18,"v":-15},{"s":"x","c":19,"v":-10},{"s":"x","c":20,"v":-5},{"s":"x","c":21,"v":0},{"s":"x","c":22,"v":-15},{"s":"x","c":23,"v":-10},{"s":"x","c":24,"v":-5},{"s":"x","c":25,"v":-15},{"s":"x","c":26,"v":0},{"s":"x","c":27,"v":-10},{"s":"x","c":28,"v":-5},{"s":"x","c":29,"v":-15},{"s":"x","c":30,"v":-5},{"s":"x","c":31,"v":13},{"s":"x","c":32,"v":30},{"s":"x","c":33,"v":72},{"s":"x","c":34,"v":162},{"s":"x","c":35,"v":332},{"s":"x","c":36,"v":595},{"s":"x","c":37,"v":961},{"s":"x","c":38,"v":1377},{"s":"x","c":39,"v":1811},{"s":"x","c":40,"v":2236},
{"s":"y","c":1,"v":-160},{"s":"y","c":2,"v":40},{"s":"y","c":3,"v":20},{"s":"y","c":4,"v":0},{"s":"y","c":5,"v":10},{"s":"y","c":6,"v":-5},{"s":"y","c":7,"v":0},{"s":"y","c":8,"v":5},{"s":"y","c":9,"v":-10},{"s":"y","c":10,"v":0},{"s":"y","c":11,"v":5},{"s":"y","c":12,"v":-5},{"s":"y","c":13,"v":0},{"s":"y","c":14,"v":10},{"s":"y","c":15,"v":-5},{"s":"y","c":16,"v":0},{"s":"y","c":17,"v":5},{"s":"y","c":18,"v":-10},{"s":"y","c":19,"v":0},{"s":"y","c":20,"v":5},{"s":"y","c":21,"v":-5},{"s":"y","c":22,"v":0},{"s":"y","c":23,"v":5},{"s":"y","c":24,"v":-5},{"s":"y","c":25,"v":0},{"s":"y","c":26,"v":-10},{"s":"y","c":27,"v":0},{"s":"y","c":28,"v":-5},{"s":"y","c":29,"v":-10},{"s":"y","c":30,"v":-15},{"s":"y","c":31,"v":-20},{"s":"y","c":32,"v":-25},{"s":"y","c":33,"v":-20},{"s":"y","c":34,"v":-30},{"s":"y","c":35,"v":-25},{"s":"y","c":36,"v":-20},{"s":"y","c":37,"v":-25},{"s":"y","c":38,"v":-20},{"s":"y","c":39,"v":-25},{"s":"y","c":40,"v":-20}
  ]},
   "mark": {"type": "line", "strokeWidth": 0.8, "point": {"filled": true, "size": 8}},
   "encoding": {
     "x": {"field": "c", "type": "quantitative", "scale": {"domain": [1, 40], "nice": false, "zero": false},
       "axis": {"title": "Cycles", "titlePadding": 2, "labelPadding": 1, "zindex": 1, "grid": true, "tickCount": 100, "format": "d",
         "values": [1,2,3,4,5,6,7,8,9,10,11,12,13,14,15,16,17,18,19,20,21,22,23,24,25,26,27,28,29,30,31,32,33,34,35,36,37,38,39,40],
         "labelExpr": "datum.value % 2 == 0 ? datum.label : ''",
         "tickOpacity": {"condition": {"test": "datum.value % 2 == 0", "value": 1}, "value": 0},
         "gridColor": {"condition": {"test": "datum.value % 2 == 0", "value": "#86b8c8"}, "value": "#96c7d5"}}},
     "y": {"field": "v", "type": "quantitative", "scale": {"domain": [-460, 6150], "nice": false, "zero": false},
       "axis": {"title": "Fluorescence (dR)", "titlePadding": 2, "labelPadding": 1, "format": "d", "zindex": 1, "grid": true, "tickCount": 100,
         "values": [-250,0,250,500,750,1000,1250,1500,1750,2000,2250,2500,2750,3000,3250,3500,3750,4000,4250,4500,4750,5000,5250,5500,5750,6000],
         "labelExpr": "datum.value % 500 == 0 ? datum.label : ''",
         "tickOpacity": {"condition": {"test": "datum.value % 500 == 0", "value": 1}, "value": 0},
         "gridColor": {"condition": {"test": "datum.value % 500 == 0", "value": "#86b8c8"}, "value": "#96c7d5"}}},
     "color": {"field": "s", "type": "nominal", "legend": null,
       "scale": {"range": ["#3aa845","#a3ad3f","#9a2fd0","#2f4fc9","#23a3a8","#f28a16","#c43aa8","#2e8b3e","#c8282e","#3b5fd8","#f5a623","#7d3cc4","#2cb5c8","#9c2545","#4fb84a","#d6609e","#2a37a6","#d83434","#8aa52c","#3451c4","#1f7a46","#a13fcf","#2d44b5","#e57a1e","#3f5fd0"]}}
   }},
  {"data": {"values": [{}]}, "mark": {"type": "rule", "color": "#aaa36a", "strokeWidth": 1.5},
   "encoding": {"y": {"datum": 700, "type": "quantitative"}}}
]
}
